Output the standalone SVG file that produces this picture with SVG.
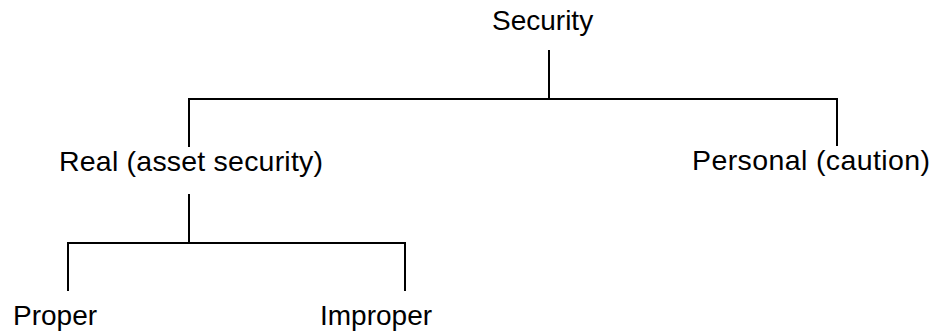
<svg xmlns="http://www.w3.org/2000/svg" width="932" height="331" viewBox="0 0 932 331">
<style>
text{font-family:"Liberation Sans",Arial,sans-serif;font-size:28px;fill:#000}
.c{stroke:#000;stroke-width:2;fill:none}
</style>
<rect width="932" height="331" fill="#fff"/>
<g id="connectors">
<path class="c" d="M549,50V99M189,99H837M189,98V147M837,98V146"/>
<path class="c" d="M189,194V243M68,243H405M68,242V291M405,242V291"/>
</g>
<g id="security"><text x="492" y="30">Security</text></g>
<g id="real"><text x="59" y="171" style="font-size:28.5px" textLength="264">Real (asset security)</text></g>
<g id="personal"><text x="692" y="170" style="font-size:28.5px" textLength="238">Personal (caution)</text></g>
<g id="proper"><text x="13" y="325">Proper</text></g>
<g id="improper"><text x="320" y="325">Improper</text></g>
</svg>
